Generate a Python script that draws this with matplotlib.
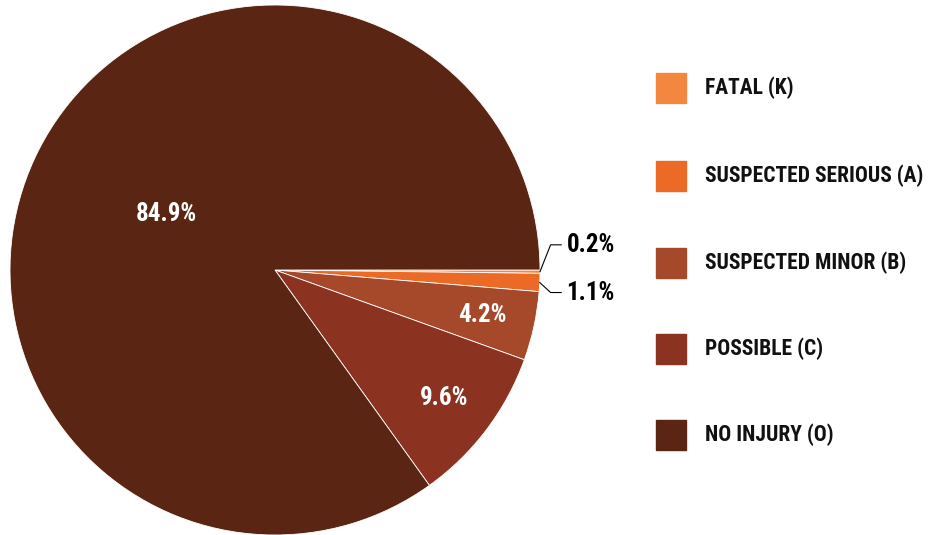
import numpy as np
import matplotlib.pyplot as plt
from matplotlib import font_manager

categories = ["FATAL (K)", "SUSPECTED SERIOUS (A)", "SUSPECTED MINOR (B)",
              "POSSIBLE (C)", "NO INJURY (O)"]
shares = [0.2, 1.1, 4.2, 9.6, 84.9]
colors = ["#F4873F", "#EB6A25", "#A6492A", "#8B3220", "#5A2613"]

names = {f.name for f in font_manager.fontManager.ttflist}
family = "DejaVu Sans"
for cand in ["Liberation Sans Narrow", "Roboto Condensed", "DejaVu Sans"]:
    if cand in names:
        family = cand
        break
plt.rcParams["font.family"] = family

fig = plt.figure(figsize=(9.35, 5.35), dpi=100)
ax = fig.add_axes([10 / 935, 0.0, 530 / 935, 530 / 535])

wedges, _ = ax.pie(shares, colors=colors, startangle=0, counterclock=False,
                   radius=1.0, wedgeprops=dict(linewidth=0.6, edgecolor="white"))
ax.set_xlim(-1, 1)
ax.set_ylim(-1, 1)
ax.set_aspect("equal")

inside = {4: 0.46, 3: 0.8, 2: 0.8}
for i, w in enumerate(wedges):
    mid = np.deg2rad((w.theta1 + w.theta2) / 2)
    label = f"{shares[i]:.1f}%"
    if i in inside:
        d = inside[i]
        ax.text(d * np.cos(mid), d * np.sin(mid), label, color="white",
                fontsize=18, fontweight="bold", ha="center", va="center")
    else:
        # small slices get a leader line out to the right
        x0, y0 = np.cos(mid), np.sin(mid)
        ty = 0.095 if i == 0 else -0.085
        ax.plot([x0, 1.04, 1.08], [y0, ty, ty], color="black", lw=0.8,
                clip_on=False)
        ax.text(1.1, ty, label, color="black", fontsize=18, fontweight="bold",
                ha="left", va="center", clip_on=False)

# legend drawn as squares + labels on the right
leg_y = [88, 176, 263, 349, 435]
for c, lab, y in zip(colors, categories, leg_y):
    fy = 1 - y / 535
    fig.patches.append(plt.Rectangle((656 / 935, fy - 15 / 535), 30 / 935, 30 / 535,
                                     transform=fig.transFigure, color=c))
    fig.text(705 / 935, fy, lab, fontsize=15.5, fontweight="bold",
             ha="left", va="center", color="#111111")

fig.savefig("out.png", dpi=100)
